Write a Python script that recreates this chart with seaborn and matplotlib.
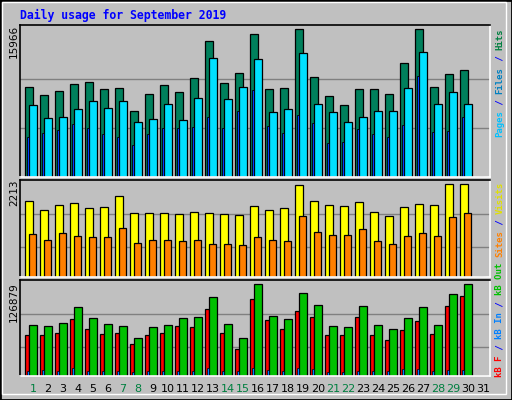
import matplotlib
matplotlib.use("Agg")
import matplotlib.pyplot as plt
import seaborn as sns
import numpy as np
from matplotlib.patches import Rectangle

sns.set_theme(style="white")
plt.rcParams['font.family'] = ['DejaVu Sans']

days = list(range(1, 32))
day_labels = [str(d) for d in days]
weekend_days = [1, 7, 8, 14, 15, 21, 22, 28, 29]

hits = [9680, 8813, 9247, 10005, 10222, 9463, 9572, 7188, 8922, 9897, 9138, 10655, 14665, 10114, 11197,
        15423, 9463, 9572, 15966, 10764, 8705, 7730, 9463, 9463, 8922, 12281, 15950, 9680, 11089, 11522, 0]
files = [7730, 6429, 6538, 7405, 8163, 7513, 8163, 5996, 6321, 7838, 6213, 8488, 12823, 8380, 9680,
         12714, 7080, 7405, 13364, 7838, 7080, 5996, 6538, 7188, 7188, 9572, 13473, 7838, 9138, 7838, 0]
pages = [4371, 4804, 5129, 5779, 5346, 4696, 4371, 3504, 4696, 5346, 5346, 5454, 6538, 5346, 7188,
         9355, 5562, 4804, 6754, 5888, 3720, 3829, 5237, 4696, 4371, 5671, 10872, 4912, 5021, 6538, 0]
visits = [1827, 1609, 1730, 1778, 1658, 1682, 1923, 1537, 1537, 1537, 1513, 1561, 1537, 1513, 1489,
          1706, 1609, 1658, 2189, 1827, 1730, 1706, 1803, 1561, 1465, 1682, 1754, 1730, 2213, 2213, 0]
sites = [1030, 885, 1054, 982, 958, 958, 1175, 813, 885, 885, 861, 885, 789, 789, 764,
         958, 885, 861, 1465, 1078, 1006, 1006, 1151, 861, 789, 982, 1054, 982, 1440, 1537, 0]
kbf = [57170, 57170, 59960, 79480, 65540, 58560, 59960, 44620, 57170, 59960, 69720, 68330, 93420, 59960, 37650,
       105970, 78090, 65540, 90640, 82270, 57170, 57170, 82270, 57170, 50200, 64140, 76690, 58560, 96210, 110160, 0]
kbout = [71110, 69720, 73900, 94820, 80880, 72510, 69720, 52990, 68330, 71110, 80880, 82270, 108760, 72510, 52990,
         126879, 83660, 79480, 114340, 97610, 69720, 68330, 96210, 71110, 65540, 80880, 94820, 71110, 112950, 126879, 0]
kbin = [6970, 8370, 6970, 11150, 6970, 6970, 6970, 5580, 6970, 6970, 6970, 6970, 11150, 6970, 6970,
        11150, 8370, 6970, 11150, 9760, 5580, 5580, 6970, 6970, 6970, 9760, 9760, 6970, 8370, 8370, 0]

W, H = 512, 400
fig = plt.figure(figsize=(W/100, H/100), dpi=100)
fig.patch.set_facecolor('#c0c0c0')
# outer bevel
fig.add_artist(Rectangle((0, 0), 1, 1, transform=fig.transFigure, fill=False, ec='black', lw=2))
fig.add_artist(Rectangle((2/W, 6/H), 1-8/W, 1-8/H, transform=fig.transFigure, fill=False, ec='white', lw=1))

def mkax(top, bottom):
    ax = fig.add_axes([20/W, 1-bottom/H, 470/W, (bottom-top)/H])
    ax.set_facecolor('#c0c0c0')
    for s in ['left', 'top']:
        ax.spines[s].set_color('black')
    for s in ['right', 'bottom']:
        ax.spines[s].set_color('white')
    for s in ax.spines.values():
        s.set_linewidth(1.2)
    ax.set_xlim(0.133, 31.47)
    ax.set_xticks([]); ax.set_yticks([])
    return ax

x = np.array(days, dtype=float)
kw = dict(align='edge', edgecolor='black', linewidth=0.9)

ax1 = mkax(25, 177)
ax1.set_ylim(0, 16432)
for g in (5322, 10644):
    ax1.axhline(g, color='#808080', lw=1, zorder=0)
ax1.bar(x - 0.53, hits, width=0.50, color='#00805c', **kw)
ax1.bar(x - 0.27, files, width=0.53, color='#00e0ff', **kw)
ax1.bar(x - 0.43, pages, width=0.14, color='#0040ff', edgecolor='black', linewidth=0.6, align='edge')

ax2 = mkax(180, 277)
ax2.set_ylim(0, 2317)
for g in (0.324*2213, 0.684*2213):
    ax2.axhline(g, color='#808080', lw=1, zorder=0)
ax2.bar(x - 0.53, visits, width=0.50, color='#ffff00', **kw)
ax2.bar(x - 0.27, sites, width=0.50, color='#ff8000', **kw)

ax3 = mkax(280, 376)
ax3.set_ylim(0, 132870)
for g in (0.319*126879, 0.681*126879):
    ax3.axhline(g, color='#808080', lw=1, zorder=0)
ax3.bar(x - 0.53, kbf, width=0.27, color='#ff0000', **kw)
ax3.bar(x - 0.27, kbout, width=0.53, color='#00c000', **kw)
ax3.bar(x - 0.37, kbin, width=0.10, color='#0080ff', edgecolor='black', linewidth=0.5, align='edge')

for d, lab in zip(days, day_labels):
    ax3.text(d, -0.14, lab, transform=ax3.get_xaxis_transform(), ha='center', va='center',
             fontsize=8, color='#008040' if d in weekend_days else 'black')

fig.text(20/W, 1-15/H, 'Daily usage for September 2019', family='DejaVu Sans Mono',
         weight='bold', fontsize=8.3, color='#0000ff', va='center', ha='left')

for txt, top in (('15966', 25), ('2213', 180), ('126879', 282)):
    fig.text(14/W, 1-top/H, txt, rotation=90, fontsize=7.5, ha='center', va='top', color='black')

def vlabel(segments, y_bottom, xpx=500, size=6.5):
    cw = 0.602*size*100/72
    y = y_bottom
    for txt, col in segments:
        fig.text(xpx/W, 1-y/H, txt, rotation=90, fontsize=size, family='DejaVu Sans Mono',
                 weight='bold', color=col, ha='center', va='bottom')
        y -= cw*len(txt)

vlabel([('Pages', '#00c0ff'), (' / ', '#0000ff'), ('Files', '#0080c0'), (' / ', '#0000ff'), ('Hits', '#008040')], 137)
vlabel([('Sites', '#ff8000'), (' / ', '#0000ff'), ('Visits', '#e0e000')], 257)
vlabel([('kB F', '#ff0000'), (' / ', '#0000ff'), ('kB In', '#0080ff'), (' / ', '#0000ff'), ('kB Out', '#00c000')], 377)

fig.savefig('out.png', dpi=100, facecolor=fig.get_facecolor())
